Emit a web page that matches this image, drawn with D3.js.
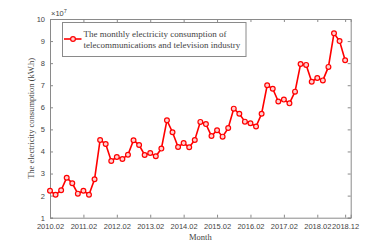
<!DOCTYPE html>
<html>
<head>
<meta charset="utf-8">
<script src="https://cdn.jsdelivr.net/npm/d3@7"></script>
<style>
  body { margin: 0; background: #fff; }
  svg text { fill: #444; }
</style>
</head>
<body>
<div id="chart"></div>
<script>
// bimonthly readings, 2010.02 .. 2018.12, in units of 1e7 kW.h
const values = [
  2.22, 2.04, 2.24, 2.81, 2.56, 2.09, 2.22, 2.04, 2.74, 4.52,
  4.34, 3.57, 3.75, 3.66, 3.85, 4.51, 4.29, 3.84, 3.93, 3.78,
  4.13, 5.41, 4.87, 4.20, 4.38, 4.19, 4.52, 5.34, 5.24, 4.70,
  4.96, 4.67, 5.06, 5.94, 5.71, 5.35, 5.28, 5.13, 5.71, 7.00,
  6.84, 6.26, 6.35, 6.18, 6.71, 7.96, 7.92, 7.16, 7.33, 7.22,
  7.83, 9.35, 9.00, 8.13
];
const xTickIdx = [0, 6, 12, 18, 24, 30, 36, 42, 48, 53];
const xTickLabels = ["2010.02", "2011.02", "2012.02", "2013.02", "2014.02",
  "2015.02", "2016.02", "2017.02", "2018.02", "2018.12"];
const yTicks = [1, 2, 3, 4, 5, 6, 7, 8, 9, 10];
const legendLines = ["The monthly electricity consumption of",
  "telecommunications and television industry"];

const width = 388, height = 245;
const margin = { top: 19, right: 37.3, bottom: 27.3, left: 50 };
const axisColor = "#8a8a8a";
const serif = "'Liberation Serif', 'Times New Roman', serif";
const sans = "'Liberation Sans', Arial, sans-serif";

const svg = d3.select("#chart").append("svg")
  .attr("width", width)
  .attr("height", height);

const x = d3.scaleLinear()
  .domain([0, 54])
  .range([margin.left, width - margin.right]);

const y = d3.scaleLinear()
  .domain([1, 10])
  .range([height - margin.bottom, margin.top]);

// axes (box with inward ticks on all sides)

const tickLen = 3;

const xAxis = svg.append("g")
  .attr("transform", `translate(0,${height - margin.bottom})`)
  .call(d3.axisBottom(x).tickValues(xTickIdx).tickSize(-tickLen).tickPadding(6)
    .tickFormat((d, i) => xTickLabels[i]));

const xAxisTop = svg.append("g")
  .attr("transform", `translate(0,${margin.top})`)
  .call(d3.axisTop(x).tickValues(xTickIdx).tickSize(-tickLen).tickFormat(""));

const yAxis = svg.append("g")
  .attr("transform", `translate(${margin.left},0)`)
  .call(d3.axisLeft(y).tickValues(yTicks).tickSize(-tickLen).tickPadding(5));

const yAxisRight = svg.append("g")
  .attr("transform", `translate(${width - margin.right},0)`)
  .call(d3.axisRight(y).tickValues(yTicks).tickSize(-tickLen).tickFormat(""));

svg.selectAll(".domain").attr("stroke", axisColor);
svg.selectAll(".tick line").attr("stroke", axisColor);
svg.selectAll(".tick text")
  .style("font-family", sans)
  .style("font-size", "7.5px")
  .attr("fill", "#444");

// exponent label
const expo = svg.append("text")
  .attr("x", margin.left + 1)
  .attr("y", margin.top - 3)
  .style("font-family", sans)
  .style("font-size", "7.5px");
expo.append("tspan").text("\u00d710");
expo.append("tspan").attr("dy", -3).style("font-size", "5.5px").text("7");

// axis titles
svg.append("text")
  .attr("text-anchor", "middle")
  .attr("x", (margin.left + width - margin.right) / 2)
  .attr("y", height - 5)
  .style("font-family", serif)
  .style("font-size", "8.5px")
  .text("Month");

svg.append("text")
  .attr("text-anchor", "middle")
  .attr("transform", `translate(34,${(margin.top + height - margin.bottom) / 2}) rotate(-90)`)
  .style("font-family", serif)
  .style("font-size", "8.5px")
  .text("The electricity consumption (kW.h)");

// series
const line = d3.line()
  .x((d, i) => x(i))
  .y(d => y(d));

svg.append("path")
  .datum(values)
  .attr("fill", "none")
  .attr("stroke", "#ff0000")
  .attr("stroke-width", 1.6)
  .attr("d", line);

svg.selectAll("circle.pt")
  .data(values)
  .join("circle")
  .attr("class", "pt")
  .attr("cx", (d, i) => x(i))
  .attr("cy", d => y(d))
  .attr("r", 2.4)
  .attr("fill", "#ffd0d0")
  .attr("stroke", "#ff0000")
  .attr("stroke-width", 1.2);

// legend
const legend = svg.append("g");
legend.append("rect")
  .attr("x", 62.5).attr("y", 22.5)
  .attr("width", 183.5).attr("height", 34)
  .attr("fill", "#fff")
  .attr("stroke", axisColor)
  .attr("stroke-width", 1);
legend.append("line")
  .attr("x1", 64).attr("x2", 81.5)
  .attr("y1", 39).attr("y2", 39)
  .attr("stroke", "#ff0000")
  .attr("stroke-width", 1.6);
legend.append("circle")
  .attr("cx", 73).attr("cy", 39).attr("r", 2.4)
  .attr("fill", "#ffd0d0")
  .attr("stroke", "#ff0000")
  .attr("stroke-width", 1.2);
legend.selectAll("text.leg")
  .data(legendLines)
  .join("text")
  .attr("class", "leg")
  .attr("x", 83.5)
  .attr("y", (d, i) => 37 + i * 11)
  .style("font-family", serif)
  .style("font-size", "9px")
  .attr("fill", "#111")
  .text(d => d);
</script>
</body>
</html>
